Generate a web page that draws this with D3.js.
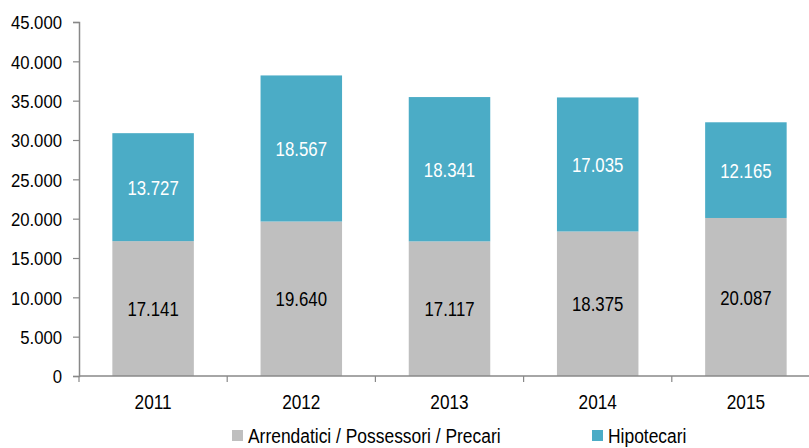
<!DOCTYPE html>
<html>
<head>
<meta charset="utf-8">
<script src="https://cdn.jsdelivr.net/npm/d3@7"></script>
<style>
  body { margin: 0; background: #fff; }
  svg text { font-family: "Liberation Sans", Arial, sans-serif; }
</style>
</head>
<body>
<div id="chart"></div>
<script>
// data
const years = ["2011", "2012", "2013", "2014", "2015"];
const arrendatici = [17141, 19640, 17117, 18375, 20087];
const hipotecari = [13727, 18567, 18341, 17035, 12165];
const seriesNames = ["Arrendatici / Possessori / Precari", "Hipotecari"];
const seriesColors = ["#bfbfbf", "#4bacc6"];
const yTicks = [0, 5000, 10000, 15000, 20000, 25000, 30000, 35000, 40000, 45000];

const width = 809, height = 448;
const margin = { top: 22, right: -11, bottom: 72, left: 79 };
const innerW = width - margin.left - margin.right;
const innerH = height - margin.top - margin.bottom;
const squeeze = 0.82; // the original uses a condensed face

const fmt = v => d3.format(",")(v).replace(/,/g, ".");

const svg = d3.select("#chart").append("svg")
    .attr("width", width)
    .attr("height", height);

const g = svg.append("g")
    .attr("transform", `translate(${margin.left},${margin.top})`);

const x = d3.scaleBand().domain(years).range([0, innerW]).paddingInner(0.45).paddingOuter(0.225);
const y = d3.scaleLinear().domain([0, 45000]).range([innerH, 0]);

const rows = years.map((yr, i) => ({ year: yr, a: arrendatici[i], h: hipotecari[i] }));
const stacked = d3.stack().keys(["a", "h"])(rows);

// bars
stacked.forEach((layer, li) => {
    g.append("g").selectAll("rect")
        .data(layer)
        .join("rect")
        .attr("x", d => x(d.data.year))
        .attr("y", d => y(d[1]))
        .attr("width", x.bandwidth())
        .attr("height", d => y(d[0]) - y(d[1]))
        .attr("fill", seriesColors[li]);

    g.append("g").selectAll("text")
        .data(layer)
        .join("text")
        .attr("transform", d => `translate(${x(d.data.year) + x.bandwidth() / 2},${(y(d[0]) + y(d[1])) / 2}) scale(0.8,1)`)
        .attr("dy", "0.36em")
        .attr("text-anchor", "middle")
        .style("font-size", "21px")
        .attr("fill", li === 0 ? "#000" : "#fff")
        .text(d => fmt(d[1] - d[0]));
});

// y axis
const yAxis = g.append("g")
    .call(d3.axisLeft(y).tickValues(yTicks).tickSize(6).tickFormat(fmt));
yAxis.select(".domain").attr("stroke", "#888").attr("stroke-width", 1.5);
yAxis.selectAll(".tick line").attr("stroke", "#888").attr("stroke-width", 1.2);
yAxis.selectAll(".tick text")
    .attr("x", 0)
    .attr("dy", "0.36em")
    .attr("transform", "translate(-17,0) scale(0.88,1)")
    .style("font-size", "19px")
    .attr("fill", "#000");

// x axis with ticks at category boundaries
const xAxis = g.append("g").attr("transform", `translate(0,${innerH})`);
xAxis.append("line")
    .attr("x1", 0).attr("x2", innerW)
    .attr("stroke", "#888").attr("stroke-width", 1.5);
const step = x.step();
const bounds = years.map(yr => x(yr) - (step - x.bandwidth()) / 2);
xAxis.selectAll("line.bt")
    .data(bounds)
    .join("line")
    .attr("class", "bt")
    .attr("x1", d => d).attr("x2", d => d)
    .attr("y1", 0).attr("y2", 6)
    .attr("stroke", "#888").attr("stroke-width", 1.2);
xAxis.selectAll("text")
    .data(years)
    .join("text")
    .attr("transform", d => `translate(${x(d) + x.bandwidth() / 2},33) scale(${squeeze},1)`)
    .attr("text-anchor", "middle")
    .style("font-size", "21px")
    .attr("fill", "#000")
    .text(d => d);

// legend (nudged up a little so descenders stay inside the page)
const legendX = [232, 592];
const legend = svg.append("g");
seriesNames.forEach((name, i) => {
    const row = legend.append("g").attr("transform", `translate(${legendX[i]}, 430)`);
    row.append("rect")
        .attr("width", 11).attr("height", 11)
        .attr("fill", seriesColors[i]);
    row.append("text")
        .attr("transform", `translate(16,13) scale(0.83,1)`)
        .style("font-size", "21px")
        .attr("fill", "#000")
        .text(name);
});
</script>
</body>
</html>
